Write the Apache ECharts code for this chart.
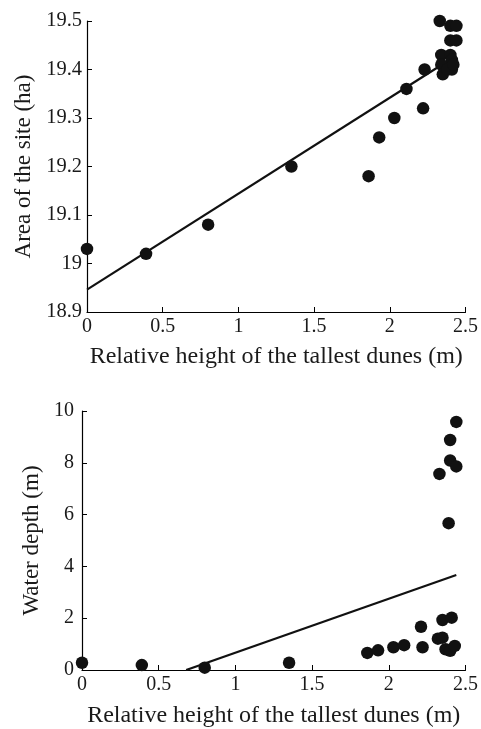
<!DOCTYPE html>
<html>
<head>
<meta charset="utf-8">
<script src="https://cdn.jsdelivr.net/npm/echarts@6/dist/echarts.min.js"></script>
<style>
html,body{margin:0;padding:0;background:#fff;}
#c{width:481px;height:729px;}
</style>
</head>
<body>
<div id="c"></div>
<script>
// Top panel: area of the site vs relative height
var areaX = [0, 0.39, 0.80, 1.35, 1.86, 1.93, 2.03, 2.11, 2.22, 2.23, 2.33, 2.40, 2.44, 2.40, 2.44, 2.34, 2.40, 2.41, 2.34, 2.41, 2.35, 2.38, 2.42];
var areaY = [19.03, 19.02, 19.08, 19.20, 19.18, 19.26, 19.30, 19.36, 19.32, 19.40, 19.50, 19.49, 19.49, 19.46, 19.46, 19.43, 19.43, 19.42, 19.41, 19.40, 19.39, 19.40, 19.41];
var areaFitX = [0, 2.38];
var areaFitY = [18.946, 19.417];

// Bottom panel: water depth vs relative height
var depthX = [0, 0.39, 0.80, 1.35, 1.86, 1.93, 2.03, 2.10, 2.21, 2.22, 2.33, 2.32, 2.35, 2.35, 2.39, 2.40, 2.40, 2.37, 2.41, 2.40, 2.44, 2.44, 2.43];
var depthY = [0.28, 0.19, 0.09, 0.28, 0.66, 0.76, 0.88, 0.96, 1.67, 0.88, 7.57, 1.21, 1.25, 1.93, 5.67, 8.88, 8.09, 0.80, 2.02, 0.74, 7.86, 9.58, 0.93];
var depthFitX = [0.679, 2.44];
var depthFitY = [0, 3.67];

var xTicks = [0, 0.5, 1, 1.5, 2, 2.5];
var areaTicks = [18.9, 19.0, 19.1, 19.2, 19.3, 19.4, 19.5];
var depthTicks = [0, 2, 4, 6, 8, 10];

function pairs(xs, ys){ return xs.map(function(x,i){ return [x, ys[i]]; }); }

var FONT = 'Liberation Serif';
var TXT = '#1a1a1a';
var axisLine = {show:true, lineStyle:{color:'#000', width:1.2}};
var axisTick = {show:true, inside:true, length:5, lineStyle:{color:'#000', width:1}};

function xAxis(gi, gap){
  return {
    type:'value', gridIndex:gi, min:xTicks[0], max:xTicks[xTicks.length-1], interval:0.5,
    name:'Relative height of the tallest dunes (m)', nameLocation:'middle', nameGap:gap,
    nameTextStyle:{fontFamily:FONT, fontSize:24, color:TXT},
    axisLine:axisLine, axisTick:axisTick, splitLine:{show:false},
    axisLabel:{fontFamily:FONT, fontSize:20, color:TXT, margin:5,
      formatter:function(v){ return String(v); }}
  };
}

var chart = echarts.init(document.getElementById('c'), null, {renderer:'canvas'});
chart.setOption({
  animation:false,
  grid:[
    {left:87, width:380, top:21, height:291},
    {left:82, width:384, top:411, height:261}
  ],
  xAxis:[xAxis(0, 33), xAxis(1, 34)],
  yAxis:[
    {type:'value', gridIndex:0, min:areaTicks[0], max:areaTicks[areaTicks.length-1], interval:0.1,
      name:'Area of the site (ha)', nameLocation:'middle', nameGap:50,
      nameTextStyle:{fontFamily:FONT, fontSize:23, color:TXT},
      axisLine:axisLine, axisTick:axisTick, splitLine:{show:false},
      axisLabel:{fontFamily:FONT, fontSize:20.5, color:TXT, margin:5,
        formatter:function(v){ var s=(Math.round(v*10)/10).toFixed(1); return s==='19.0'?'19':s; }}
    },
    {type:'value', gridIndex:1, min:depthTicks[0], max:depthTicks[depthTicks.length-1], interval:2,
      name:'Water depth (m)', nameLocation:'middle', nameGap:38,
      nameTextStyle:{fontFamily:FONT, fontSize:23, color:TXT},
      axisLine:axisLine, axisTick:axisTick, splitLine:{show:false},
      axisLabel:{fontFamily:FONT, fontSize:20, color:TXT, margin:8}
    }
  ],
  series:[
    {type:'line', xAxisIndex:0, yAxisIndex:0, data:pairs(areaFitX, areaFitY), symbol:'none',
      lineStyle:{color:'#111', width:2.2}, z:1},
    {type:'scatter', xAxisIndex:0, yAxisIndex:0, data:pairs(areaX, areaY), symbolSize:12.5,
      itemStyle:{color:'#111', opacity:1}, clip:false, z:2},
    {type:'line', xAxisIndex:1, yAxisIndex:1, data:pairs(depthFitX, depthFitY), symbol:'none',
      lineStyle:{color:'#111', width:2.2}, z:1},
    {type:'scatter', xAxisIndex:1, yAxisIndex:1, data:pairs(depthX, depthY), symbolSize:12.5,
      itemStyle:{color:'#111', opacity:1}, clip:false, z:2}
  ]
});
</script>
</body>
</html>
